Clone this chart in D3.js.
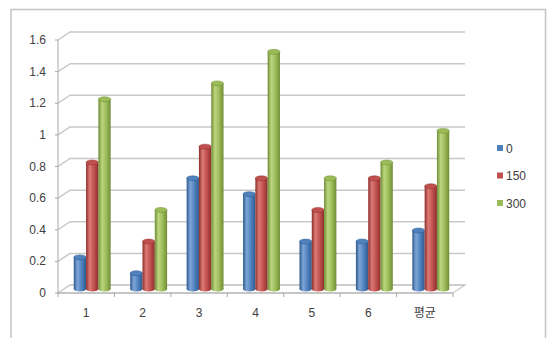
<!DOCTYPE html>
<html>
<head>
<meta charset="utf-8">
<script src="https://cdn.jsdelivr.net/npm/d3@7"></script>
<style>
  body { margin: 0; background: #fff; }
  text { font-family: "Liberation Sans", Arial, "Noto Sans CJK KR", sans-serif; font-size: 12px; fill: #404040; }
</style>
</head>
<body>
<script>
var categories = ["1", "2", "3", "4", "5", "6", "평균"];
var seriesNames = ["0", "150", "300"];
var values0   = [0.2, 0.1, 0.7, 0.6, 0.3, 0.3, 0.37];
var values150 = [0.8, 0.3, 0.9, 0.7, 0.5, 0.7, 0.65];
var values300 = [1.2, 0.5, 1.3, 1.5, 0.7, 0.8, 1.0];
var yTicks = [0, 0.2, 0.4, 0.6, 0.8, 1, 1.2, 1.4, 1.6];
var colors = ["#4F81BD", "#C0504D", "#9BBB59"];
var darks  = ["#2f5a8f", "#8e2f2c", "#6f8c34"];
var lights = ["#7ea6d8", "#dc7a76", "#bcd67f"];

var W = 550, H = 338;
var dx = 12, dy = -8; // depth of the 3d box

var svg = d3.select("body").append("svg").attr("width", W).attr("height", H);

// frame
svg.append("path")
  .attr("d", "M11,338 V9.5 H545.5 V338")
  .attr("fill", "none").attr("stroke", "#c4c4c4").attr("stroke-width", 1.5);

var x = d3.scaleBand().domain(categories).range([58, 453]);
var y = d3.scaleLinear().domain([0, 1.6]).range([293, 40]);
var bw = x.bandwidth();
var barW = bw * 0.218;
var x1 = d3.scaleBand().domain(seriesNames)
  .range([(bw - 3 * barW) / 2, (bw + 3 * barW) / 2]);

var defs = svg.append("defs");
colors.forEach(function(c, i) {
  var g = defs.append("linearGradient").attr("id", "g" + i)
    .attr("x1", "0%").attr("x2", "100%").attr("y1", "0%").attr("y2", "0%");
  g.append("stop").attr("offset", "0%").attr("stop-color", darks[i]);
  g.append("stop").attr("offset", "30%").attr("stop-color", lights[i]);
  g.append("stop").attr("offset", "65%").attr("stop-color", c);
  g.append("stop").attr("offset", "100%").attr("stop-color", darks[i]);
});

var grid = svg.append("g");
// gridlines on back wall + side wall
grid.selectAll("path.grid").data(yTicks).enter().append("path")
  .attr("d", function(d) {
    return "M58," + y(d) + " L" + (58 + dx) + "," + (y(d) + dy) + " H" + (453 + dx);
  })
  .attr("fill", "none").attr("stroke", "#c8c8c8").attr("stroke-width", 1.5);

// floor
grid.append("path")
  .attr("d", "M58,293 H453 L" + (453 + dx) + "," + (293 + dy) + " H" + (58 + dx))
  .attr("fill", "none").attr("stroke", "#c8c8c8").attr("stroke-width", 1.2);

// front axes
grid.append("line").attr("x1", 58).attr("x2", 58).attr("y1", y(1.6)).attr("y2", 293)
  .attr("stroke", "#a8a8a8").attr("stroke-width", 1);
grid.append("line").attr("x1", 58).attr("x2", 453).attr("y1", 293).attr("y2", 293)
  .attr("stroke", "#a8a8a8").attr("stroke-width", 1);
grid.selectAll("line.yt").data(yTicks).enter().append("line")
  .attr("x1", 55).attr("x2", 58).attr("y1", function(d) { return y(d); }).attr("y2", function(d) { return y(d); })
  .attr("stroke", "#a8a8a8");
grid.selectAll("line.xt").data(categories.concat([null])).enter().append("line")
  .attr("x1", function(d, i) { return 58 + i * bw; })
  .attr("x2", function(d, i) { return 58 + i * bw; })
  .attr("y1", 293).attr("y2", 297).attr("stroke", "#a8a8a8");

// y labels
svg.selectAll("text.yl").data(yTicks).enter().append("text")
  .attr("x", 46).attr("y", function(d) { return y(d) + 4; })
  .attr("text-anchor", "end")
  .text(function(d) { return d; });

// x labels
svg.selectAll("text.xl").data(categories).enter().append("text")
  .attr("x", function(d) { return x(d) + bw / 2; })
  .attr("y", 317).attr("text-anchor", "middle")
  .text(function(d) { return d; });

// bars (cylinders) sitting in the middle of the depth
var rows = categories.map(function(c, i) {
  return [values0[i], values150[i], values300[i]].map(function(v, s) {
    return { cat: c, s: s, v: v };
  });
});
var ry = 2.5;
var bars = svg.append("g").attr("transform", "translate(" + dx / 2 + "," + dy / 2 + ")");
var grp = bars.selectAll("g.cat").data(rows).enter().append("g")
  .attr("transform", function(d) { return "translate(" + x(d[0].cat) + ",0)"; });
var cyl = grp.selectAll("g.bar").data(function(d) { return d; }).enter().append("g");
cyl.append("ellipse")
  .attr("cx", function(d) { return x1(seriesNames[d.s]) + barW / 2; })
  .attr("cy", y(0)).attr("rx", barW / 2).attr("ry", ry)
  .attr("fill", function(d) { return "url(#g" + d.s + ")"; });
cyl.append("rect")
  .attr("x", function(d) { return x1(seriesNames[d.s]); })
  .attr("y", function(d) { return y(d.v); })
  .attr("width", barW)
  .attr("height", function(d) { return y(0) - y(d.v); })
  .attr("fill", function(d) { return "url(#g" + d.s + ")"; });
cyl.append("ellipse")
  .attr("cx", function(d) { return x1(seriesNames[d.s]) + barW / 2; })
  .attr("cy", function(d) { return y(d.v); })
  .attr("rx", barW / 2).attr("ry", ry)
  .attr("fill", function(d) { return colors[d.s]; })
  .attr("stroke", function(d) { return darks[d.s]; }).attr("stroke-width", 0.5);

// legend
var lg = svg.selectAll("g.lg").data(seriesNames).enter().append("g")
  .attr("transform", function(d, i) { return "translate(497," + (148 + i * 27.5) + ")"; });
lg.append("rect").attr("x", 0).attr("y", -3).attr("width", 6).attr("height", 6)
  .attr("fill", function(d, i) { return colors[i]; });
lg.append("text").attr("x", 9).attr("y", 4.5).text(function(d) { return d; });
</script>
</body>
</html>
